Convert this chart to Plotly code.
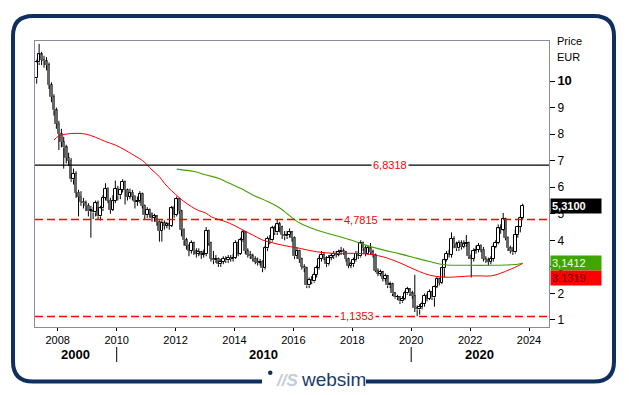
import plotly.graph_objects as go
import pandas as pd

# ---------------- data (monthly candles, Apr 2007 - Oct 2023) ----------------
first_open = 10.1
close = [
    10.7, 11.0, 10.8, 10.75, 10.6, 9.85, 9.4, 8.9, 8.4,
    8.0, 7.7, 7.5, 7.1, 7.0, 6.3, 6.5, 5.8, 5.65, 5.45, 5.4, 5.3,
    5.1, 5.1, 5.05, 5.4, 4.9, 5.2, 5.6, 5.95, 5.5, 5.15, 5.5, 5.95,
    5.7, 5.9, 6.2, 5.9, 5.65, 5.8, 5.65, 5.45, 5.5, 5.75, 5.3, 4.95,
    5.15, 5.0, 4.85, 4.9, 4.7, 4.35, 4.65, 4.55, 4.6, 4.55, 5.2, 4.95,
    5.55, 5.1, 4.4, 4.0, 3.8, 3.6, 3.9, 3.6, 3.5, 3.55, 3.45, 3.5,
    4.35, 3.9, 3.3, 3.25, 3.3, 3.1, 3.2, 3.3, 3.25, 3.35, 3.3, 3.35,
    3.9, 3.5, 4.0, 4.3, 3.6, 3.45, 3.4, 3.3, 3.2, 3.15, 3.2, 2.95,
    3.7, 4.05, 4.0, 4.45, 4.3, 4.6, 4.5, 4.2, 4.15, 4.2, 4.3, 4.1,
    3.4, 3.6, 3.3, 3.0, 2.95, 2.3, 2.5, 2.45, 2.7, 2.95, 3.3, 3.45,
    3.35, 3.1, 3.35, 3.4, 3.5, 3.45, 3.55, 3.6, 3.55, 3.3, 3.05, 3.1,
    3.25, 3.5, 3.4, 3.9, 3.7, 3.5, 3.7, 3.55, 3.45, 2.85, 2.75, 2.8,
    2.55, 2.65, 2.3, 2.35, 2.0, 1.85, 1.85, 1.7, 1.8, 2.0, 2.15, 2.0,
    1.9, 1.45, 1.4, 1.5, 1.6, 1.9, 1.8, 2.05, 1.85, 2.25, 2.55, 2.4,
    2.95, 3.25, 3.5, 3.45, 4.05, 3.85, 3.7, 3.9, 3.75, 3.85, 3.9, 3.4,
    3.3, 3.6, 3.65, 3.8, 3.65, 3.3, 3.25, 3.2, 3.3, 3.75, 3.9, 4.45,
    4.4, 4.8, 4.1, 3.7, 3.6, 3.55, 4.2, 4.5, 4.85, 5.31,
]
high = [
    10.8, 11.4, 11.1, 10.95, 10.9, 10.7, 9.95, 9.5, 9.0,
    8.5, 8.2, 7.9, 7.6, 7.3, 7.1, 6.7, 6.6, 5.9, 5.85, 5.6, 5.5,
    5.4, 5.3, 5.25, 5.5, 5.5, 5.3, 5.7, 6.15, 6.0, 5.6, 5.7, 6.25,
    6.05, 6.0, 6.3, 6.25, 5.95, 5.95, 5.9, 5.7, 5.65, 5.85, 5.8, 5.35,
    5.25, 5.2, 5.05, 5.0, 4.95, 4.75, 4.75, 4.75, 4.7, 4.7, 5.3, 5.3,
    5.65, 5.6, 5.15, 4.45, 4.1, 3.85, 4.0, 3.95, 3.7, 3.7, 3.6, 3.65,
    4.5, 4.4, 3.95, 3.6, 3.45, 3.35, 3.3, 3.4, 3.4, 3.45, 3.45, 3.5,
    4.0, 3.95, 4.1, 4.4, 4.35, 3.7, 3.6, 3.5, 3.4, 3.35, 3.3, 3.25,
    3.8, 4.15, 4.2, 4.55, 4.55, 4.77, 4.7, 4.55, 4.35, 4.35, 4.45, 4.35,
    4.15, 3.75, 3.65, 3.35, 3.1, 3.0, 2.6, 2.65, 2.8, 3.05, 3.4, 3.6,
    3.55, 3.4, 3.45, 3.5, 3.6, 3.6, 3.65, 3.75, 3.7, 3.6, 3.35, 3.2,
    3.35, 3.6, 3.6, 4.0, 3.95, 3.8, 3.8, 3.9, 3.65, 3.5, 2.95, 2.9,
    2.85, 2.75, 2.7, 2.45, 2.4, 2.05, 1.95, 1.9, 1.9, 2.1, 2.25, 2.2,
    2.1, 2.7, 1.55, 1.6, 1.7, 2.0, 2.0, 2.15, 2.1, 2.3, 2.65, 2.6,
    3.0, 3.3, 3.6, 3.65, 4.3, 4.15, 3.95, 4.0, 4.0, 4.0, 4.2, 3.95,
    3.5, 3.7, 3.8, 3.9, 3.85, 3.75, 3.4, 3.35, 3.4, 3.85, 4.0, 4.6,
    4.6, 5.03, 4.85, 4.15, 3.8, 3.75, 4.4, 4.55, 4.9, 5.38,
]
low = [
    9.9, 10.6, 10.6, 10.5, 10.4, 9.7, 9.2, 8.7, 8.2,
    7.4, 7.5, 6.7, 6.9, 6.8, 6.2, 6.1, 5.6, 4.9, 5.3, 5.2, 5.1,
    4.9, 4.1, 4.8, 4.9, 4.8, 4.75, 5.1, 5.5, 5.4, 5.0, 5.1, 5.4,
    5.5, 5.55, 5.8, 5.35, 5.5, 5.55, 5.5, 5.2, 5.3, 5.4, 5.2, 4.8,
    4.85, 4.85, 4.7, 4.7, 4.55, 3.95, 3.95, 4.4, 4.45, 4.4, 4.5, 4.85,
    4.9, 5.0, 4.15, 3.8, 3.65, 3.4, 3.5, 3.45, 3.35, 3.4, 3.3, 3.35,
    3.4, 3.8, 3.2, 3.1, 3.15, 3.0, 3.0, 3.1, 3.15, 3.15, 3.2, 3.2,
    3.3, 3.4, 3.45, 3.95, 3.5, 3.35, 3.3, 3.2, 3.1, 3.05, 3.05, 2.8,
    2.9, 3.6, 3.85, 3.95, 4.2, 4.2, 4.3, 4.05, 4.0, 4.05, 4.1, 3.95,
    3.3, 3.3, 3.15, 2.9, 2.8, 2.2, 2.2, 2.35, 2.4, 2.6, 2.9, 3.2,
    3.25, 3.0, 3.05, 3.25, 3.3, 3.35, 3.4, 3.45, 3.45, 3.2, 2.95, 2.95,
    3.0, 3.2, 3.3, 3.35, 3.6, 3.4, 3.45, 3.45, 3.35, 2.8, 2.65, 2.65,
    2.45, 2.45, 2.2, 2.2, 1.9, 1.8, 1.75, 1.6, 1.65, 1.75, 1.95, 1.9,
    1.8, 1.3, 1.14, 1.2, 1.4, 1.5, 1.7, 1.75, 1.75, 1.5, 2.2, 2.3,
    2.35, 2.6, 3.2, 3.35, 3.35, 3.7, 3.6, 3.6, 3.65, 3.7, 3.75, 3.3,
    2.6, 3.2, 3.5, 3.55, 3.55, 3.2, 3.15, 3.05, 3.1, 3.2, 3.7, 3.85,
    4.25, 4.35, 4.0, 3.6, 3.5, 3.45, 3.5, 4.1, 4.3, 4.8,
]
start_month = "2007-04-01"

red_dates = ["2007-11-15", "2008-01-15", "2008-04-15", "2008-08-15", "2008-12-15",
             "2009-04-15", "2009-08-15", "2009-12-15", "2010-04-15", "2010-08-15",
             "2010-11-15", "2011-01-15", "2011-03-15", "2011-06-15", "2011-08-15",
             "2011-11-15", "2012-02-15", "2012-04-15", "2012-07-15", "2012-10-15",
             "2013-01-15", "2013-03-15", "2013-06-15", "2013-09-15", "2013-12-15",
             "2014-04-15", "2014-08-15", "2014-12-15", "2015-04-15", "2015-08-15",
             "2016-03-15", "2016-10-15", "2017-05-15", "2017-12-15", "2018-06-15",
             "2019-01-15", "2019-08-15", "2019-12-15", "2020-04-15", "2020-08-15",
             "2020-12-15", "2021-04-15", "2021-08-15", "2022-01-15", "2022-05-15",
             "2022-09-15", "2023-01-15", "2023-05-15", "2023-08-15", "2023-10-15"]
red_vals = [7.78, 7.93, 8.0, 8.03, 8.0, 7.88, 7.72, 7.59, 7.40, 7.18,
            7.01, 6.84, 6.65, 6.40, 6.15, 5.86, 5.61, 5.46, 5.27, 5.12,
            5.02, 4.89, 4.79, 4.70, 4.58, 4.39, 4.20, 4.01, 3.91, 3.82,
            3.70, 3.57, 3.51, 3.51, 3.49, 3.38, 3.15, 2.98, 2.82, 2.69,
            2.63, 2.61, 2.63, 2.66, 2.66, 2.66, 2.76, 2.91, 3.03, 3.1319]

green_dates = ["2012-01-15", "2012-08-15", "2013-01-15", "2013-06-15", "2013-09-15",
               "2014-03-15", "2014-08-15", "2015-02-15", "2015-07-15", "2016-03-15",
               "2016-10-15", "2017-05-15", "2017-12-15", "2018-06-15", "2019-01-15",
               "2019-08-15", "2020-03-15", "2020-08-15", "2021-02-15", "2021-11-15",
               "2022-10-15", "2023-03-15", "2023-08-15", "2023-10-15"]
green_vals = [6.68, 6.59, 6.46, 6.34, 6.21, 5.96, 5.71, 5.46, 5.22, 4.66,
              4.39, 4.20, 4.01, 3.82, 3.64, 3.49, 3.32, 3.20, 3.08, 3.06,
              3.06, 3.07, 3.10, 3.1412]

level_black = 6.8318
level_mid = 4.7815
level_low = 1.1353
last_price = 5.31
ma_green_last = 3.1412
ma_red_last = 3.1319

year_ticks = list(range(2008, 2025, 2))
y_ticks = list(range(1, 11))
decade_labels = ["2000", "2010", "2020"]
decade_centers = ["2008-08-12", "2015-01-01", "2022-05-03"]
decade_bounds = ["2010-01-01", "2020-01-01"]

# ---------------- geometry helpers (reference pixel coords) ----------------
OFF = 8                     # page body margin
W, H = 629 - OFF, 395 - OFF
PL, PR, PT, PB = 35, 549, 41, 327   # plot area in reference pixels
ML, MT = PL - OFF, PT - OFF
MR, MB = W - (PR - OFF), H - (PB - OFF)
PW, PH = PR - PL, PB - PT


def px(x):
    return (x - PL) / PW


def py(y):
    return (PB - y) / PH


def fmt(v):
    return f"{v:.4f}".replace(".", ",")


dates = pd.date_range(start_month, periods=len(close), freq="MS") + pd.Timedelta(days=14)
opens = [first_open] + close[:-1]

up_x, up_base, up_h = [], [], []
dn_x, dn_base, dn_h = [], [], []
wx, wy = [], []
for d, o, h, l, c in zip(dates, opens, high, low, close):
    top, bot = max(o, c), min(o, c)
    body = max(top - bot, 0.03)
    if c >= o:
        up_x.append(d); up_base.append(bot); up_h.append(body)
    else:
        dn_x.append(d); dn_base.append(bot); dn_h.append(body)
    if h > top:
        wx += [d, d, None]; wy += [top, h, None]
    if l < bot:
        wx += [d, d, None]; wy += [l, bot, None]

bar_w = 33 * 24 * 3600 * 1000

fig = go.Figure()
fig.add_trace(go.Scatter(x=wx, y=wy, mode="lines", line=dict(color="black", width=1),
                         hoverinfo="skip", showlegend=False))
fig.add_trace(go.Bar(x=dn_x, y=dn_h, base=dn_base, width=bar_w,
                     marker=dict(color="#666666", line=dict(color="#666666", width=1)),
                     showlegend=False))
fig.add_trace(go.Bar(x=up_x, y=up_h, base=up_base, width=bar_w,
                     marker=dict(color="white", line=dict(color="black", width=1)),
                     showlegend=False))
fig.add_trace(go.Scatter(x=red_dates, y=red_vals, mode="lines",
                         line=dict(color="#ff0000", width=1, shape="spline"), showlegend=False))
fig.add_trace(go.Scatter(x=green_dates, y=green_vals, mode="lines",
                         line=dict(color="#44a000", width=1.1, shape="spline"), showlegend=False))

shapes = []
shapes.append(dict(type="line", xref="paper", x0=0, x1=1, yref="y", y0=level_black, y1=level_black,
                   line=dict(color="black", width=1.3)))
for lv in (level_mid, level_low):
    shapes.append(dict(type="line", xref="paper", x0=0, x1=1, yref="y", y0=lv, y1=lv,
                       line=dict(color="#ff0000", width=1.5, dash="8px,4px")))
for b in decade_bounds:
    shapes.append(dict(type="line", xref="x", x0=b, x1=b, yref="paper", y0=py(347), y1=py(362),
                       line=dict(color="black", width=1)))
L, R, T, B, r = 13, 614, 16, 381.5, 20
path = (f"M {px(262)},{py(B)} L {px(L + r)},{py(B)} Q {px(L)},{py(B)} {px(L)},{py(B - r)} "
        f"L {px(L)},{py(T + r)} Q {px(L)},{py(T)} {px(L + r)},{py(T)} "
        f"L {px(R - r)},{py(T)} Q {px(R)},{py(T)} {px(R)},{py(T + r)} "
        f"L {px(R)},{py(B - r)} Q {px(R)},{py(B)} {px(R - r)},{py(B)} L {px(366)},{py(B)}")
shapes.append(dict(type="path", xref="paper", yref="paper", path=path,
                   line=dict(color="#0f2f5f", width=4)))
shapes.append(dict(type="circle", xref="paper", yref="paper", x0=px(268), x1=px(272.5),
                   y0=py(375), y1=py(370.5), fillcolor="#0f2f5f", line=dict(width=0)))

FONT = "Liberation Sans, Arial, sans-serif"
ann = []
for lv, xc in ((level_black, 390), (level_mid, 361), (level_low, 357)):
    ann.append(dict(xref="paper", x=px(xc), xanchor="center", yref="y", y=lv, yanchor="middle",
                    text=fmt(lv), showarrow=False,
                    font=dict(family=FONT, size=11, color="#ff0000"), bgcolor="white", borderpad=1))
box = dict(xref="paper", x=px(550), xanchor="left", yref="y", yanchor="middle",
           showarrow=False, align="left", width=48, borderpad=1)
ann.append(dict(box, y=last_price, text="<b>" + fmt(last_price) + "</b>",
                font=dict(family=FONT, size=11, color="white"), bgcolor="black"))
ann.append(dict(box, y=ma_green_last, text=fmt(ma_green_last),
                font=dict(family=FONT, size=11, color="#f0fff0"), bgcolor="#3fa600"))
ann.append(dict(box, y=ma_red_last, yshift=-15, text=fmt(ma_red_last),
                font=dict(family=FONT, size=11, color="#600000"), bgcolor="#ff0000"))
for txt, yy in (("Price", 41), ("EUR", 57)):
    ann.append(dict(xref="paper", x=px(555), xanchor="left", yref="paper", y=py(yy), yanchor="middle",
                    text=txt, showarrow=False, font=dict(family=FONT, size=11, color="black")))
for lab, c in zip(decade_labels, decade_centers):
    ann.append(dict(xref="x", x=c, xanchor="center", yref="paper", y=py(354), yanchor="middle",
                    text="<b>" + lab + "</b>", showarrow=False,
                    font=dict(family=FONT, size=13, color="black")))
ann.append(dict(xref="paper", x=px(274), xanchor="left", yref="paper", y=py(380), yanchor="middle",
                text="<b><i>//S</i></b>", showarrow=False,
                font=dict(family=FONT, size=17, color="#c3ccd9")))
ann.append(dict(xref="paper", x=px(299), xanchor="left", yref="paper", y=py(379), yanchor="middle",
                text="websim", showarrow=False,
                font=dict(family=FONT, size=19, color="#1d3a68")))

ytext = [('<span style="font-size:13px"><b>10</b></span>' if v == 10 else str(v)) for v in y_ticks]

fig.update_layout(
    width=W, height=H,
    margin=dict(l=ML, r=MR, t=MT, b=MB, pad=0),
    paper_bgcolor="white", plot_bgcolor="white",
    barmode="overlay", bargap=0,
    showlegend=False,
    font=dict(family=FONT, size=11, color="black"),
    shapes=shapes, annotations=ann,
    xaxis=dict(type="date", range=["2007-03-25", "2024-09-05"],
               tickvals=[f"{y}-01-01" for y in year_ticks], ticktext=[str(y) for y in year_ticks],
               ticks="outside", ticklen=3, tickcolor="black",
               showgrid=False, zeroline=False, showline=True, mirror=True, linecolor="#8c8c9c",
               tickfont=dict(family=FONT, size=11, color="black")),
    yaxis=dict(side="right", range=[0.736, 11.507], tickvals=y_ticks, ticktext=ytext,
               ticks="outside", ticklen=5, tickcolor="black",
               showgrid=False, zeroline=False, showline=True, mirror=True, linecolor="#8c8c9c",
               tickfont=dict(family=FONT, size=12, color="black")),
)

fig.write_html("out.html")
